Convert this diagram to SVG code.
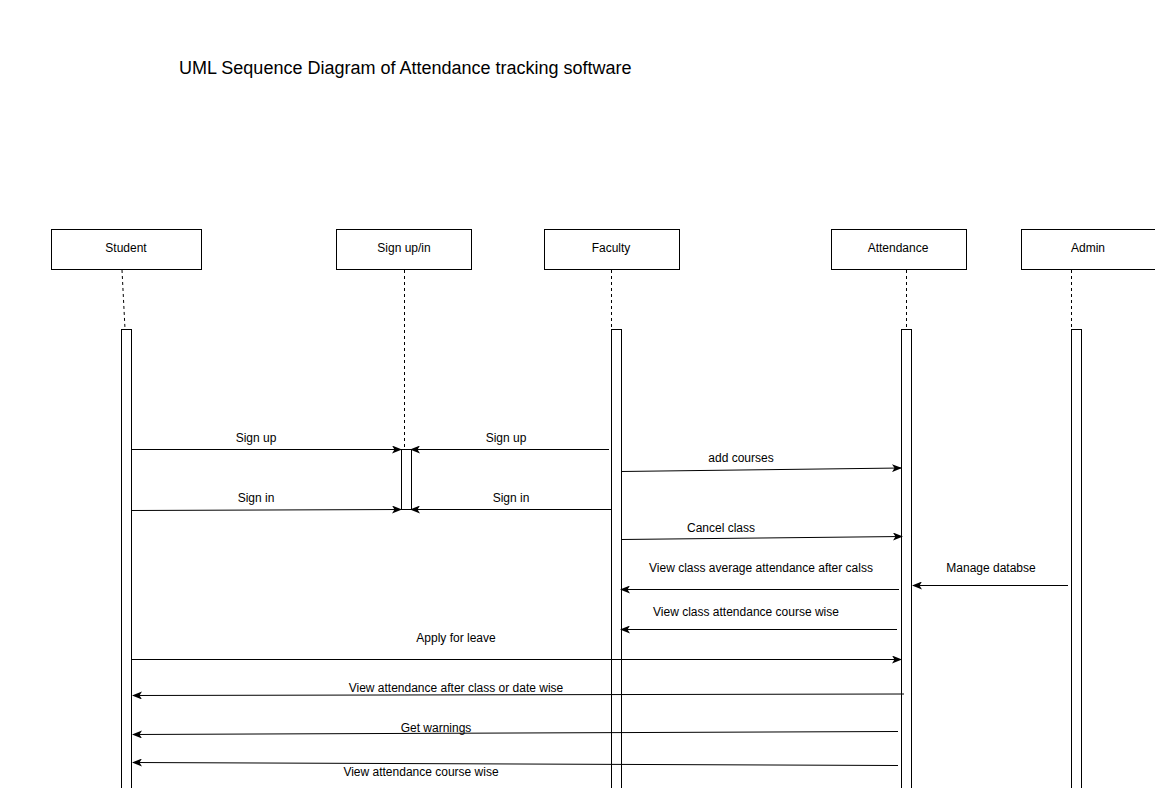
<svg xmlns="http://www.w3.org/2000/svg" width="1155" height="788" viewBox="0 0 1155 788">
<defs>
<marker id="arr" viewBox="0 0 10 8" refX="9" refY="4" markerWidth="10" markerHeight="8" markerUnits="userSpaceOnUse" orient="auto">
<path d="M0,0 L10,4 L0,8 L2.5,4 Z" fill="#000"/>
</marker>
</defs>
<style>
.box{fill:#fff;stroke:#000;stroke-width:1}
.lbl{font-family:"Liberation Sans",Arial,sans-serif;font-size:12px;fill:#000;text-anchor:middle}
.life{stroke:#000;stroke-width:1;stroke-dasharray:3,3;fill:none}
.act{fill:#fff;stroke:#000;stroke-width:1}
.msg{stroke:#000;stroke-width:1;fill:none;marker-end:url(#arr)}
</style>
<rect width="1155" height="788" fill="#fff"/>
<text x="179" y="74" style="font-family:'Liberation Sans',Arial,sans-serif;font-size:18px;fill:#000">UML Sequence Diagram of Attendance tracking software</text>

<g id="student">
<rect class="box" x="51.5" y="229.5" width="150" height="40"/>
<text class="lbl" x="126" y="252">Student</text>
<path class="life" d="M122,270 L125,329"/>
<rect class="act" x="121.5" y="329.5" width="10" height="470"/>
</g>
<g id="signupin">
<rect class="box" x="336.5" y="229.5" width="135" height="40"/>
<text class="lbl" x="404" y="252">Sign up/in</text>
<path class="life" d="M404.5,270 L404.5,449"/>
<rect class="act" x="401.5" y="449.5" width="10" height="60"/>
</g>
<g id="faculty">
<rect class="box" x="544.5" y="229.5" width="135" height="40"/>
<text class="lbl" x="611" y="252">Faculty</text>
<path class="life" d="M611.5,270 L611.5,329"/>
<rect class="act" x="611.5" y="329.5" width="10" height="470"/>
</g>
<g id="attendance">
<rect class="box" x="831.5" y="229.5" width="135" height="40"/>
<text class="lbl" x="898" y="252">Attendance</text>
<path class="life" d="M906.5,270 L906.5,329"/>
<rect class="act" x="901.5" y="329.5" width="10" height="470"/>
</g>
<g id="admin">
<rect class="box" x="1021.5" y="229.5" width="135" height="40"/>
<text class="lbl" x="1088" y="252">Admin</text>
<path class="life" d="M1071.5,270 L1071.5,329"/>
<rect class="act" x="1071.5" y="329.5" width="10" height="470"/>
</g>

<g id="connectors">
<path class="msg" d="M131,449.5 L401,449.5"/>
<text class="lbl" x="256" y="442">Sign up</text>
<path class="msg" d="M609,449.5 L411,449.5"/>
<text class="lbl" x="506" y="442">Sign up</text>
<path class="msg" d="M131,510.5 L401,509.5"/>
<text class="lbl" x="256" y="502">Sign in</text>
<path class="msg" d="M611,509.5 L411,509.5"/>
<text class="lbl" x="511" y="502">Sign in</text>
<path class="msg" d="M621,471.5 L901,468"/>
<text class="lbl" x="741" y="462">add courses</text>
<path class="msg" d="M621,539.5 L902,536.5"/>
<text class="lbl" x="721" y="532">Cancel class</text>
<path class="msg" d="M899,589.5 L621,589.5"/>
<text class="lbl" x="761" y="572">View class average attendance after calss</text>
<path class="msg" d="M1068,585.5 L913,585.5"/>
<text class="lbl" x="991" y="572">Manage databse</text>
<path class="msg" d="M897,629.5 L621,629.5"/>
<text class="lbl" x="746" y="616">View class attendance course wise</text>
<path class="msg" d="M131,659.5 L901,659.5"/>
<text class="lbl" x="456" y="642">Apply for leave</text>
<path class="msg" d="M904,694 L133,695.5"/>
<text class="lbl" x="456" y="692">View attendance after class or date wise</text>
<path class="msg" d="M898,731.5 L133,734.5"/>
<text class="lbl" x="436" y="732">Get warnings</text>
<path class="msg" d="M898,765.5 L133,762.5"/>
<text class="lbl" x="421" y="776">View attendance course wise</text>
</g>
</svg>
